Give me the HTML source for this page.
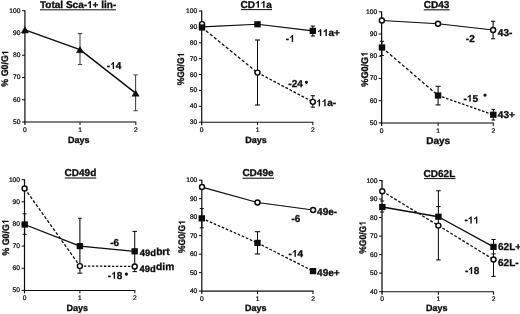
<!DOCTYPE html>
<html><head><meta charset="utf-8"><title>Figure</title>
<style>
html,body{margin:0;padding:0;background:#fff;}
body{width:520px;height:314px;overflow:hidden;font-family:"Liberation Sans",sans-serif;}
svg{display:block;}
svg text{font-family:"Liberation Sans",sans-serif;fill:#0a0a0a;text-rendering:geometricPrecision;}
svg text{stroke:#0a0a0a;stroke-width:0.22px;}
svg .b text,svg .b path{stroke:#0a0a0a;stroke-width:0.3px;fill:#0a0a0a;}
</style></head><body>
<svg width="520" height="314" viewBox="0 0 520 314">
<defs><filter id="bl" x="0" y="0" width="520" height="314" filterUnits="userSpaceOnUse"><feGaussianBlur stdDeviation="0.36"/></filter></defs>
<rect x="0" y="0" width="520" height="314" fill="#fff"/>
<g filter="url(#bl)">
<line x1="24.90" y1="10.30" x2="24.90" y2="125.00" stroke="#0a0a0a" stroke-width="1.20"/>
<line x1="24.40" y1="122.00" x2="136.30" y2="122.00" stroke="#0a0a0a" stroke-width="1.05"/>
<line x1="22.00" y1="10.70" x2="24.90" y2="10.70" stroke="#0a0a0a" stroke-width="1.00"/>
<text x="20.45" y="12.70" font-size="6.70" text-anchor="end">100</text>
<line x1="22.00" y1="32.96" x2="24.90" y2="32.96" stroke="#0a0a0a" stroke-width="1.00"/>
<text x="20.45" y="34.96" font-size="6.70" text-anchor="end">90</text>
<line x1="22.00" y1="55.22" x2="24.90" y2="55.22" stroke="#0a0a0a" stroke-width="1.00"/>
<text x="20.45" y="57.22" font-size="6.70" text-anchor="end">80</text>
<line x1="22.00" y1="77.48" x2="24.90" y2="77.48" stroke="#0a0a0a" stroke-width="1.00"/>
<text x="20.45" y="79.48" font-size="6.70" text-anchor="end">70</text>
<line x1="22.00" y1="99.74" x2="24.90" y2="99.74" stroke="#0a0a0a" stroke-width="1.00"/>
<text x="20.45" y="101.74" font-size="6.70" text-anchor="end">60</text>
<line x1="22.00" y1="122.00" x2="24.90" y2="122.00" stroke="#0a0a0a" stroke-width="1.00"/>
<text x="20.45" y="124.00" font-size="6.70" text-anchor="end">50</text>
<text x="24.90" y="131.60" font-size="6.70" text-anchor="middle">0</text>
<line x1="80.00" y1="122.00" x2="80.00" y2="125.00" stroke="#0a0a0a" stroke-width="1.00"/>
<text x="80.00" y="131.60" font-size="6.70" text-anchor="middle">1</text>
<line x1="135.80" y1="122.00" x2="135.80" y2="125.00" stroke="#0a0a0a" stroke-width="1.00"/>
<text x="135.80" y="131.60" font-size="6.70" text-anchor="middle">2</text>
<g class="b" transform="translate(39.99 7.90)" font-size="10.00" font-weight="bold"><text x="0.00" y="0" xml:space="preserve">Total Sca-</text><path transform="translate(47.05 0) scale(0.01000 -0.01000)" d="M393 0L254 0L254 495Q178 425 75 392L75 512Q129 530 193 578Q256 626 280 688L393 688Z"/><text x="52.61" y="0" xml:space="preserve">+ lin-</text></g>
<line x1="40.00" y1="9.80" x2="116.00" y2="9.80" stroke="#0a0a0a" stroke-width="1.00"/>
<g class="b" transform="translate(8.40 68.50) rotate(-90) scale(0.920 1)" font-size="9.60" font-weight="bold"><text x="-19.73" y="0" xml:space="preserve">% G0/G</text><path transform="translate(14.39 0) scale(0.00960 -0.00960)" d="M393 0L254 0L254 495Q178 425 75 392L75 512Q129 530 193 578Q256 626 280 688L393 688Z"/></g>
<g class="b" transform="translate(78.70 142.60)" font-size="9.00" font-weight="bold"><text x="-10.76" y="0" xml:space="preserve">Days</text></g>
<line x1="80.00" y1="33.60" x2="80.00" y2="64.50" stroke="#444" stroke-width="1.05"/>
<line x1="77.90" y1="33.60" x2="82.10" y2="33.60" stroke="#444" stroke-width="1.05"/>
<line x1="77.90" y1="64.50" x2="82.10" y2="64.50" stroke="#444" stroke-width="1.05"/>
<line x1="135.60" y1="74.90" x2="135.60" y2="110.70" stroke="#444" stroke-width="1.05"/>
<line x1="133.50" y1="74.90" x2="137.70" y2="74.90" stroke="#444" stroke-width="1.05"/>
<line x1="133.50" y1="110.70" x2="137.70" y2="110.70" stroke="#444" stroke-width="1.05"/>
<polyline points="24.90,29.90 80.00,49.60 135.60,93.10" fill="none" stroke="#0a0a0a" stroke-width="1.40" stroke-linejoin="round"/>
<polygon points="24.90,26.60 21.30,33.00 28.50,33.00" fill="#0a0a0a" stroke="#0a0a0a" stroke-width="0.4" stroke-linejoin="round"/>
<polygon points="80.00,46.40 76.40,52.80 83.60,52.80" fill="#0a0a0a" stroke="#0a0a0a" stroke-width="0.4" stroke-linejoin="round"/>
<polygon points="135.60,89.90 132.00,96.30 139.20,96.30" fill="#0a0a0a" stroke="#0a0a0a" stroke-width="0.4" stroke-linejoin="round"/>
<g class="b" transform="translate(106.81 69.00)" font-size="10.00" font-weight="bold"><text x="0.00" y="0" xml:space="preserve">-</text><path transform="translate(3.34 0) scale(0.01000 -0.01000)" d="M393 0L254 0L254 495Q178 425 75 392L75 512Q129 530 193 578Q256 626 280 688L393 688Z"/><text x="8.90" y="0" xml:space="preserve">4</text></g>
<line x1="201.70" y1="10.60" x2="201.70" y2="125.20" stroke="#0a0a0a" stroke-width="1.20"/>
<line x1="201.20" y1="122.20" x2="313.30" y2="122.20" stroke="#0a0a0a" stroke-width="1.05"/>
<line x1="198.80" y1="11.00" x2="201.70" y2="11.00" stroke="#0a0a0a" stroke-width="1.00"/>
<text x="197.25" y="13.00" font-size="6.70" text-anchor="end">100</text>
<line x1="198.80" y1="26.89" x2="201.70" y2="26.89" stroke="#0a0a0a" stroke-width="1.00"/>
<text x="197.25" y="28.89" font-size="6.70" text-anchor="end">90</text>
<line x1="198.80" y1="42.77" x2="201.70" y2="42.77" stroke="#0a0a0a" stroke-width="1.00"/>
<text x="197.25" y="44.77" font-size="6.70" text-anchor="end">80</text>
<line x1="198.80" y1="58.66" x2="201.70" y2="58.66" stroke="#0a0a0a" stroke-width="1.00"/>
<text x="197.25" y="60.66" font-size="6.70" text-anchor="end">70</text>
<line x1="198.80" y1="74.54" x2="201.70" y2="74.54" stroke="#0a0a0a" stroke-width="1.00"/>
<text x="197.25" y="76.54" font-size="6.70" text-anchor="end">60</text>
<line x1="198.80" y1="90.43" x2="201.70" y2="90.43" stroke="#0a0a0a" stroke-width="1.00"/>
<text x="197.25" y="92.43" font-size="6.70" text-anchor="end">50</text>
<line x1="198.80" y1="106.31" x2="201.70" y2="106.31" stroke="#0a0a0a" stroke-width="1.00"/>
<text x="197.25" y="108.31" font-size="6.70" text-anchor="end">40</text>
<line x1="198.80" y1="122.20" x2="201.70" y2="122.20" stroke="#0a0a0a" stroke-width="1.00"/>
<text x="197.25" y="124.20" font-size="6.70" text-anchor="end">30</text>
<text x="201.70" y="131.80" font-size="6.70" text-anchor="middle">0</text>
<line x1="257.50" y1="122.20" x2="257.50" y2="125.20" stroke="#0a0a0a" stroke-width="1.00"/>
<text x="257.50" y="131.80" font-size="6.70" text-anchor="middle">1</text>
<line x1="312.80" y1="122.20" x2="312.80" y2="125.20" stroke="#0a0a0a" stroke-width="1.00"/>
<text x="312.80" y="131.80" font-size="6.70" text-anchor="middle">2</text>
<g class="b" transform="translate(240.59 7.80)" font-size="10.00" font-weight="bold"><text x="0.00" y="0" xml:space="preserve">CD</text><path transform="translate(14.45 0) scale(0.01000 -0.01000)" d="M393 0L254 0L254 495Q178 425 75 392L75 512Q129 530 193 578Q256 626 280 688L393 688Z"/><path transform="translate(20.01 0) scale(0.01000 -0.01000)" d="M393 0L254 0L254 495Q178 425 75 392L75 512Q129 530 193 578Q256 626 280 688L393 688Z"/><text x="25.57" y="0" xml:space="preserve">a</text></g>
<line x1="241.00" y1="9.60" x2="272.00" y2="9.60" stroke="#0a0a0a" stroke-width="1.00"/>
<g class="b" transform="translate(184.10 69.00) rotate(-90) scale(0.890 1)" font-size="9.60" font-weight="bold"><text x="-18.40" y="0" xml:space="preserve">%G0/G</text><path transform="translate(13.07 0) scale(0.00960 -0.00960)" d="M393 0L254 0L254 495Q178 425 75 392L75 512Q129 530 193 578Q256 626 280 688L393 688Z"/></g>
<g class="b" transform="translate(256.00 142.50)" font-size="9.00" font-weight="bold"><text x="-10.76" y="0" xml:space="preserve">Days</text></g>
<line x1="257.50" y1="40.00" x2="257.50" y2="105.00" stroke="#0a0a0a" stroke-width="1.05"/>
<line x1="254.90" y1="40.00" x2="260.10" y2="40.00" stroke="#0a0a0a" stroke-width="1.05"/>
<line x1="254.90" y1="105.00" x2="260.10" y2="105.00" stroke="#0a0a0a" stroke-width="1.05"/>
<line x1="312.80" y1="95.70" x2="312.80" y2="107.20" stroke="#0a0a0a" stroke-width="1.05"/>
<line x1="310.70" y1="95.70" x2="314.90" y2="95.70" stroke="#0a0a0a" stroke-width="1.05"/>
<line x1="310.70" y1="107.20" x2="314.90" y2="107.20" stroke="#0a0a0a" stroke-width="1.05"/>
<line x1="312.80" y1="26.10" x2="312.80" y2="36.00" stroke="#0a0a0a" stroke-width="1.05"/>
<line x1="310.70" y1="26.10" x2="314.90" y2="26.10" stroke="#0a0a0a" stroke-width="1.05"/>
<line x1="310.70" y1="36.00" x2="314.90" y2="36.00" stroke="#0a0a0a" stroke-width="1.05"/>
<polyline points="202.00,26.90 257.50,24.25 312.80,30.90" fill="none" stroke="#0a0a0a" stroke-width="1.15" stroke-linejoin="round"/>
<line x1="202.00" y1="27.50" x2="257.50" y2="72.60" stroke="#0a0a0a" stroke-width="1.30" stroke-dasharray="3.09 2.06"/>
<line x1="257.50" y1="72.60" x2="312.80" y2="101.85" stroke="#0a0a0a" stroke-width="1.30" stroke-dasharray="2.72 1.81"/>
<circle cx="202.00" cy="24.10" r="2.50" fill="#fff" stroke="#0a0a0a" stroke-width="1.45"/>
<rect x="198.80" y="24.40" width="6.40" height="6.20" fill="#0a0a0a"/>
<rect x="254.30" y="21.15" width="6.40" height="6.20" fill="#0a0a0a"/>
<rect x="309.60" y="27.80" width="6.40" height="6.20" fill="#0a0a0a"/>
<circle cx="257.50" cy="72.60" r="2.50" fill="#fff" stroke="#0a0a0a" stroke-width="1.45"/>
<circle cx="312.85" cy="101.85" r="2.50" fill="#fff" stroke="#0a0a0a" stroke-width="1.45"/>
<g class="b" transform="translate(285.86 42.00)" font-size="10.00" font-weight="bold"><text x="0.00" y="0" xml:space="preserve">-</text><path transform="translate(3.34 0) scale(0.01000 -0.01000)" d="M393 0L254 0L254 495Q178 425 75 392L75 512Q129 530 193 578Q256 626 280 688L393 688Z"/></g>
<g class="b" transform="translate(317.35 36.10)" font-size="10.00" font-weight="bold"><path transform="translate(0.00 0) scale(0.01000 -0.01000)" d="M393 0L254 0L254 495Q178 425 75 392L75 512Q129 530 193 578Q256 626 280 688L393 688Z"/><path transform="translate(5.56 0) scale(0.01000 -0.01000)" d="M393 0L254 0L254 495Q178 425 75 392L75 512Q129 530 193 578Q256 626 280 688L393 688Z"/><text x="11.12" y="0" xml:space="preserve">a+</text></g>
<g class="b" transform="translate(288.36 87.20)" font-size="10.00" font-weight="bold"><text x="0.00" y="0" xml:space="preserve">-24</text></g>
<line x1="306.40" y1="80.70" x2="306.40" y2="83.90" stroke="#0a0a0a" stroke-width="1.10"/>
<line x1="307.79" y1="81.50" x2="305.01" y2="83.10" stroke="#0a0a0a" stroke-width="1.10"/>
<line x1="307.79" y1="83.10" x2="305.01" y2="81.50" stroke="#0a0a0a" stroke-width="1.10"/>
<g class="b" transform="translate(316.15 106.20)" font-size="10.00" font-weight="bold"><path transform="translate(0.00 0) scale(0.01000 -0.01000)" d="M393 0L254 0L254 495Q178 425 75 392L75 512Q129 530 193 578Q256 626 280 688L393 688Z"/><path transform="translate(5.56 0) scale(0.01000 -0.01000)" d="M393 0L254 0L254 495Q178 425 75 392L75 512Q129 530 193 578Q256 626 280 688L393 688Z"/><text x="11.12" y="0" xml:space="preserve">a-</text></g>
<line x1="381.60" y1="11.40" x2="381.60" y2="125.90" stroke="#0a0a0a" stroke-width="1.20"/>
<line x1="381.10" y1="122.90" x2="493.80" y2="122.90" stroke="#0a0a0a" stroke-width="1.05"/>
<line x1="378.70" y1="11.80" x2="381.60" y2="11.80" stroke="#0a0a0a" stroke-width="1.00"/>
<text x="377.15" y="13.80" font-size="6.70" text-anchor="end">100</text>
<line x1="378.70" y1="34.02" x2="381.60" y2="34.02" stroke="#0a0a0a" stroke-width="1.00"/>
<text x="377.15" y="36.02" font-size="6.70" text-anchor="end">90</text>
<line x1="378.70" y1="56.24" x2="381.60" y2="56.24" stroke="#0a0a0a" stroke-width="1.00"/>
<text x="377.15" y="58.24" font-size="6.70" text-anchor="end">80</text>
<line x1="378.70" y1="78.46" x2="381.60" y2="78.46" stroke="#0a0a0a" stroke-width="1.00"/>
<text x="377.15" y="80.46" font-size="6.70" text-anchor="end">70</text>
<line x1="378.70" y1="100.68" x2="381.60" y2="100.68" stroke="#0a0a0a" stroke-width="1.00"/>
<text x="377.15" y="102.68" font-size="6.70" text-anchor="end">60</text>
<line x1="378.70" y1="122.90" x2="381.60" y2="122.90" stroke="#0a0a0a" stroke-width="1.00"/>
<text x="377.15" y="124.90" font-size="6.70" text-anchor="end">50</text>
<text x="381.60" y="132.50" font-size="6.70" text-anchor="middle">0</text>
<line x1="438.10" y1="122.90" x2="438.10" y2="125.90" stroke="#0a0a0a" stroke-width="1.00"/>
<text x="438.10" y="132.50" font-size="6.70" text-anchor="middle">1</text>
<line x1="493.30" y1="122.90" x2="493.30" y2="125.90" stroke="#0a0a0a" stroke-width="1.00"/>
<text x="493.30" y="132.50" font-size="6.70" text-anchor="middle">2</text>
<g class="b" transform="translate(423.74 8.00)" font-size="10.00" font-weight="bold"><text x="0.00" y="0" xml:space="preserve">CD43</text></g>
<line x1="423.80" y1="9.85" x2="449.70" y2="9.85" stroke="#0a0a0a" stroke-width="1.00"/>
<g class="b" transform="translate(367.70 69.20) rotate(-90) scale(0.950 1)" font-size="9.60" font-weight="bold"><text x="-18.40" y="0" xml:space="preserve">%G0/G</text><path transform="translate(13.07 0) scale(0.00960 -0.00960)" d="M393 0L254 0L254 495Q178 425 75 392L75 512Q129 530 193 578Q256 626 280 688L393 688Z"/></g>
<g class="b" transform="translate(438.20 144.00)" font-size="10.00" font-weight="bold"><text x="-11.95" y="0" xml:space="preserve">Days</text></g>
<line x1="493.10" y1="21.25" x2="493.10" y2="38.75" stroke="#0a0a0a" stroke-width="1.05"/>
<line x1="491.00" y1="21.25" x2="495.20" y2="21.25" stroke="#0a0a0a" stroke-width="1.05"/>
<line x1="491.00" y1="38.75" x2="495.20" y2="38.75" stroke="#0a0a0a" stroke-width="1.05"/>
<line x1="381.90" y1="41.25" x2="381.90" y2="55.50" stroke="#0a0a0a" stroke-width="1.05"/>
<line x1="379.90" y1="41.25" x2="383.90" y2="41.25" stroke="#0a0a0a" stroke-width="1.05"/>
<line x1="379.90" y1="55.50" x2="383.90" y2="55.50" stroke="#0a0a0a" stroke-width="1.05"/>
<line x1="438.10" y1="86.30" x2="438.10" y2="104.90" stroke="#0a0a0a" stroke-width="1.05"/>
<line x1="435.60" y1="86.30" x2="440.60" y2="86.30" stroke="#0a0a0a" stroke-width="1.05"/>
<line x1="435.60" y1="104.90" x2="440.60" y2="104.90" stroke="#0a0a0a" stroke-width="1.05"/>
<line x1="493.30" y1="109.40" x2="493.30" y2="120.00" stroke="#0a0a0a" stroke-width="1.05"/>
<line x1="491.50" y1="109.40" x2="495.10" y2="109.40" stroke="#0a0a0a" stroke-width="1.05"/>
<line x1="491.50" y1="120.00" x2="495.10" y2="120.00" stroke="#0a0a0a" stroke-width="1.05"/>
<polyline points="381.85,20.50 438.00,23.75 493.10,30.00" fill="none" stroke="#0a0a0a" stroke-width="1.15" stroke-linejoin="round"/>
<line x1="382.00" y1="47.50" x2="438.10" y2="95.50" stroke="#0a0a0a" stroke-width="1.30" stroke-dasharray="3.16 2.11"/>
<line x1="438.10" y1="95.50" x2="493.30" y2="114.75" stroke="#0a0a0a" stroke-width="1.30" stroke-dasharray="2.54 1.69"/>
<circle cx="381.85" cy="20.50" r="2.50" fill="#fff" stroke="#0a0a0a" stroke-width="1.45"/>
<circle cx="438.00" cy="23.75" r="2.50" fill="#fff" stroke="#0a0a0a" stroke-width="1.45"/>
<circle cx="493.10" cy="30.00" r="2.50" fill="#fff" stroke="#0a0a0a" stroke-width="1.45"/>
<rect x="378.80" y="44.40" width="6.40" height="6.20" fill="#0a0a0a"/>
<rect x="434.90" y="92.40" width="6.40" height="6.20" fill="#0a0a0a"/>
<rect x="490.10" y="111.65" width="6.40" height="6.20" fill="#0a0a0a"/>
<g class="b" transform="translate(465.86 41.70)" font-size="10.00" font-weight="bold"><text x="0.00" y="0" xml:space="preserve">-2</text></g>
<g class="b" transform="translate(497.85 35.95)" font-size="10.00" font-weight="bold"><text x="0.00" y="0" xml:space="preserve">43-</text></g>
<g class="b" transform="translate(463.51 101.60)" font-size="10.00" font-weight="bold"><text x="0.00" y="0" xml:space="preserve">-</text><path transform="translate(3.34 0) scale(0.01000 -0.01000)" d="M393 0L254 0L254 495Q178 425 75 392L75 512Q129 530 193 578Q256 626 280 688L393 688Z"/><text x="8.90" y="0" xml:space="preserve">5</text></g>
<line x1="485.00" y1="93.60" x2="485.00" y2="96.80" stroke="#0a0a0a" stroke-width="1.10"/>
<line x1="486.39" y1="94.40" x2="483.61" y2="96.00" stroke="#0a0a0a" stroke-width="1.10"/>
<line x1="486.39" y1="96.00" x2="483.61" y2="94.40" stroke="#0a0a0a" stroke-width="1.10"/>
<g class="b" transform="translate(497.85 118.00)" font-size="10.00" font-weight="bold"><text x="0.00" y="0" xml:space="preserve">43+</text></g>
<line x1="24.50" y1="179.30" x2="24.50" y2="293.40" stroke="#0a0a0a" stroke-width="1.20"/>
<line x1="24.00" y1="290.40" x2="135.30" y2="290.40" stroke="#0a0a0a" stroke-width="1.05"/>
<line x1="21.60" y1="179.70" x2="24.50" y2="179.70" stroke="#0a0a0a" stroke-width="1.00"/>
<text x="20.05" y="181.70" font-size="6.70" text-anchor="end">100</text>
<line x1="21.60" y1="201.84" x2="24.50" y2="201.84" stroke="#0a0a0a" stroke-width="1.00"/>
<text x="20.05" y="203.84" font-size="6.70" text-anchor="end">90</text>
<line x1="21.60" y1="223.98" x2="24.50" y2="223.98" stroke="#0a0a0a" stroke-width="1.00"/>
<text x="20.05" y="225.98" font-size="6.70" text-anchor="end">80</text>
<line x1="21.60" y1="246.12" x2="24.50" y2="246.12" stroke="#0a0a0a" stroke-width="1.00"/>
<text x="20.05" y="248.12" font-size="6.70" text-anchor="end">70</text>
<line x1="21.60" y1="268.26" x2="24.50" y2="268.26" stroke="#0a0a0a" stroke-width="1.00"/>
<text x="20.05" y="270.26" font-size="6.70" text-anchor="end">60</text>
<line x1="21.60" y1="290.40" x2="24.50" y2="290.40" stroke="#0a0a0a" stroke-width="1.00"/>
<text x="20.05" y="292.40" font-size="6.70" text-anchor="end">50</text>
<text x="24.50" y="300.00" font-size="6.70" text-anchor="middle">0</text>
<line x1="79.90" y1="290.40" x2="79.90" y2="293.40" stroke="#0a0a0a" stroke-width="1.00"/>
<text x="79.90" y="300.00" font-size="6.70" text-anchor="middle">1</text>
<line x1="134.80" y1="290.40" x2="134.80" y2="293.40" stroke="#0a0a0a" stroke-width="1.00"/>
<text x="134.80" y="300.00" font-size="6.70" text-anchor="middle">2</text>
<g class="b" transform="translate(64.59 176.20)" font-size="10.00" font-weight="bold"><text x="0.00" y="0" xml:space="preserve">CD49d</text></g>
<line x1="64.80" y1="178.00" x2="96.20" y2="178.00" stroke="#0a0a0a" stroke-width="1.00"/>
<g class="b" transform="translate(8.60 237.40) rotate(-90) scale(0.920 1)" font-size="9.60" font-weight="bold"><text x="-19.73" y="0" xml:space="preserve">% G0/G</text><path transform="translate(14.39 0) scale(0.00960 -0.00960)" d="M393 0L254 0L254 495Q178 425 75 392L75 512Q129 530 193 578Q256 626 280 688L393 688Z"/></g>
<g class="b" transform="translate(77.20 310.50)" font-size="9.00" font-weight="bold"><text x="-10.76" y="0" xml:space="preserve">Days</text></g>
<line x1="79.90" y1="218.30" x2="79.90" y2="273.20" stroke="#0a0a0a" stroke-width="1.05"/>
<line x1="78.10" y1="218.30" x2="81.70" y2="218.30" stroke="#0a0a0a" stroke-width="1.05"/>
<line x1="77.40" y1="273.20" x2="82.40" y2="273.20" stroke="#0a0a0a" stroke-width="1.05"/>
<line x1="134.70" y1="231.40" x2="134.70" y2="271.60" stroke="#0a0a0a" stroke-width="1.05"/>
<line x1="132.45" y1="231.40" x2="136.95" y2="231.40" stroke="#0a0a0a" stroke-width="1.05"/>
<line x1="132.45" y1="271.60" x2="136.95" y2="271.60" stroke="#0a0a0a" stroke-width="1.05"/>
<line x1="24.60" y1="213.80" x2="24.60" y2="234.30" stroke="#0a0a0a" stroke-width="1.05"/>
<line x1="22.60" y1="213.80" x2="26.60" y2="213.80" stroke="#0a0a0a" stroke-width="1.05"/>
<line x1="22.60" y1="234.30" x2="26.60" y2="234.30" stroke="#0a0a0a" stroke-width="1.05"/>
<polyline points="24.60,224.50 79.90,246.10 134.70,251.30" fill="none" stroke="#0a0a0a" stroke-width="1.30" stroke-linejoin="round"/>
<line x1="24.60" y1="188.50" x2="79.90" y2="266.10" stroke="#0a0a0a" stroke-width="1.30" stroke-dasharray="2.95 1.96"/>
<line x1="79.90" y1="266.10" x2="134.70" y2="266.40" stroke="#0a0a0a" stroke-width="1.30" stroke-dasharray="2.40 1.60"/>
<circle cx="24.60" cy="188.50" r="2.50" fill="#fff" stroke="#0a0a0a" stroke-width="1.45"/>
<rect x="21.50" y="221.40" width="6.40" height="6.20" fill="#0a0a0a"/>
<rect x="76.70" y="243.00" width="6.40" height="6.20" fill="#0a0a0a"/>
<rect x="131.50" y="248.20" width="6.40" height="6.20" fill="#0a0a0a"/>
<circle cx="79.90" cy="266.10" r="2.50" fill="#fff" stroke="#0a0a0a" stroke-width="1.45"/>
<circle cx="134.70" cy="266.40" r="2.50" fill="#fff" stroke="#0a0a0a" stroke-width="1.45"/>
<g class="b" transform="translate(110.21 246.20)" font-size="10.00" font-weight="bold"><text x="0.00" y="0" xml:space="preserve">-6</text></g>
<g class="b" transform="translate(107.81 278.70)" font-size="10.00" font-weight="bold"><text x="0.00" y="0" xml:space="preserve">-</text><path transform="translate(3.34 0) scale(0.01000 -0.01000)" d="M393 0L254 0L254 495Q178 425 75 392L75 512Q129 530 193 578Q256 626 280 688L393 688Z"/><text x="8.90" y="0" xml:space="preserve">8</text></g>
<line x1="126.40" y1="272.50" x2="126.40" y2="275.70" stroke="#0a0a0a" stroke-width="1.10"/>
<line x1="127.79" y1="273.30" x2="125.01" y2="274.90" stroke="#0a0a0a" stroke-width="1.10"/>
<line x1="127.79" y1="274.90" x2="125.01" y2="273.30" stroke="#0a0a0a" stroke-width="1.10"/>
<g class="b" transform="translate(139.86 255.80)" font-size="9.40" font-weight="bold"><text x="0.00" y="0" xml:space="preserve">49d</text></g>
<g class="b" transform="translate(156.13 254.50)" font-size="10.20" font-weight="bold"><text x="0.00" y="0" xml:space="preserve">brt</text></g>
<g class="b" transform="translate(139.61 271.70)" font-size="9.40" font-weight="bold"><text x="0.00" y="0" xml:space="preserve">49d</text></g>
<g class="b" transform="translate(156.08 269.60)" font-size="10.20" font-weight="bold"><text x="0.00" y="0" xml:space="preserve">dim</text></g>
<line x1="201.80" y1="179.80" x2="201.80" y2="294.10" stroke="#0a0a0a" stroke-width="1.20"/>
<line x1="201.30" y1="291.10" x2="313.50" y2="291.10" stroke="#0a0a0a" stroke-width="1.05"/>
<line x1="198.90" y1="180.20" x2="201.80" y2="180.20" stroke="#0a0a0a" stroke-width="1.00"/>
<text x="197.35" y="182.20" font-size="6.70" text-anchor="end">100</text>
<line x1="198.90" y1="198.68" x2="201.80" y2="198.68" stroke="#0a0a0a" stroke-width="1.00"/>
<text x="197.35" y="200.68" font-size="6.70" text-anchor="end">90</text>
<line x1="198.90" y1="217.17" x2="201.80" y2="217.17" stroke="#0a0a0a" stroke-width="1.00"/>
<text x="197.35" y="219.17" font-size="6.70" text-anchor="end">80</text>
<line x1="198.90" y1="235.65" x2="201.80" y2="235.65" stroke="#0a0a0a" stroke-width="1.00"/>
<text x="197.35" y="237.65" font-size="6.70" text-anchor="end">70</text>
<line x1="198.90" y1="254.13" x2="201.80" y2="254.13" stroke="#0a0a0a" stroke-width="1.00"/>
<text x="197.35" y="256.13" font-size="6.70" text-anchor="end">60</text>
<line x1="198.90" y1="272.62" x2="201.80" y2="272.62" stroke="#0a0a0a" stroke-width="1.00"/>
<text x="197.35" y="274.62" font-size="6.70" text-anchor="end">50</text>
<line x1="198.90" y1="291.10" x2="201.80" y2="291.10" stroke="#0a0a0a" stroke-width="1.00"/>
<text x="197.35" y="293.10" font-size="6.70" text-anchor="end">40</text>
<text x="201.80" y="300.70" font-size="6.70" text-anchor="middle">0</text>
<line x1="257.50" y1="291.10" x2="257.50" y2="294.10" stroke="#0a0a0a" stroke-width="1.00"/>
<text x="257.50" y="300.70" font-size="6.70" text-anchor="middle">1</text>
<line x1="313.00" y1="291.10" x2="313.00" y2="294.10" stroke="#0a0a0a" stroke-width="1.00"/>
<text x="313.00" y="300.70" font-size="6.70" text-anchor="middle">2</text>
<g class="b" transform="translate(242.39 176.40)" font-size="10.00" font-weight="bold"><text x="0.00" y="0" xml:space="preserve">CD49e</text></g>
<line x1="242.50" y1="178.20" x2="274.00" y2="178.20" stroke="#0a0a0a" stroke-width="1.00"/>
<g class="b" transform="translate(185.20 236.60) rotate(-90) scale(0.890 1)" font-size="9.60" font-weight="bold"><text x="-18.40" y="0" xml:space="preserve">%G0/G</text><path transform="translate(13.07 0) scale(0.00960 -0.00960)" d="M393 0L254 0L254 495Q178 425 75 392L75 512Q129 530 193 578Q256 626 280 688L393 688Z"/></g>
<g class="b" transform="translate(255.80 311.10)" font-size="9.00" font-weight="bold"><text x="-10.76" y="0" xml:space="preserve">Days</text></g>
<line x1="201.80" y1="208.50" x2="201.80" y2="227.80" stroke="#0a0a0a" stroke-width="1.05"/>
<line x1="199.80" y1="208.50" x2="203.80" y2="208.50" stroke="#0a0a0a" stroke-width="1.05"/>
<line x1="199.80" y1="227.80" x2="203.80" y2="227.80" stroke="#0a0a0a" stroke-width="1.05"/>
<line x1="257.50" y1="231.70" x2="257.50" y2="254.00" stroke="#0a0a0a" stroke-width="1.05"/>
<line x1="254.80" y1="231.70" x2="260.20" y2="231.70" stroke="#0a0a0a" stroke-width="1.05"/>
<line x1="254.80" y1="254.00" x2="260.20" y2="254.00" stroke="#0a0a0a" stroke-width="1.05"/>
<polyline points="202.00,187.05 257.50,202.50 313.10,210.00" fill="none" stroke="#0a0a0a" stroke-width="1.20" stroke-linejoin="round"/>
<line x1="201.80" y1="218.30" x2="257.50" y2="242.90" stroke="#0a0a0a" stroke-width="1.30" stroke-dasharray="2.62 1.75"/>
<line x1="257.50" y1="242.90" x2="313.00" y2="271.10" stroke="#0a0a0a" stroke-width="1.30" stroke-dasharray="2.69 1.79"/>
<circle cx="202.00" cy="187.05" r="2.50" fill="#fff" stroke="#0a0a0a" stroke-width="1.45"/>
<circle cx="257.50" cy="202.50" r="2.50" fill="#fff" stroke="#0a0a0a" stroke-width="1.45"/>
<circle cx="313.10" cy="210.00" r="2.50" fill="#fff" stroke="#0a0a0a" stroke-width="1.45"/>
<rect x="198.60" y="215.20" width="6.40" height="6.20" fill="#0a0a0a"/>
<rect x="254.30" y="239.80" width="6.40" height="6.20" fill="#0a0a0a"/>
<rect x="309.80" y="268.00" width="6.40" height="6.20" fill="#0a0a0a"/>
<g class="b" transform="translate(291.51 222.20)" font-size="10.00" font-weight="bold"><text x="0.00" y="0" xml:space="preserve">-6</text></g>
<g class="b" transform="translate(317.10 215.10)" font-size="10.00" font-weight="bold"><text x="0.00" y="0" xml:space="preserve">49e-</text></g>
<g class="b" transform="translate(288.61 256.80)" font-size="10.00" font-weight="bold"><text x="0.00" y="0" xml:space="preserve">-</text><path transform="translate(3.34 0) scale(0.01000 -0.01000)" d="M393 0L254 0L254 495Q178 425 75 392L75 512Q129 530 193 578Q256 626 280 688L393 688Z"/><text x="8.90" y="0" xml:space="preserve">4</text></g>
<g class="b" transform="translate(317.10 276.45)" font-size="10.00" font-weight="bold"><text x="0.00" y="0" xml:space="preserve">49e+</text></g>
<line x1="382.00" y1="180.10" x2="382.00" y2="294.70" stroke="#0a0a0a" stroke-width="1.20"/>
<line x1="381.50" y1="291.70" x2="494.00" y2="291.70" stroke="#0a0a0a" stroke-width="1.05"/>
<line x1="379.10" y1="180.50" x2="382.00" y2="180.50" stroke="#0a0a0a" stroke-width="1.00"/>
<text x="377.55" y="182.50" font-size="6.70" text-anchor="end">100</text>
<line x1="379.10" y1="199.03" x2="382.00" y2="199.03" stroke="#0a0a0a" stroke-width="1.00"/>
<text x="377.55" y="201.03" font-size="6.70" text-anchor="end">90</text>
<line x1="379.10" y1="217.57" x2="382.00" y2="217.57" stroke="#0a0a0a" stroke-width="1.00"/>
<text x="377.55" y="219.57" font-size="6.70" text-anchor="end">80</text>
<line x1="379.10" y1="236.10" x2="382.00" y2="236.10" stroke="#0a0a0a" stroke-width="1.00"/>
<text x="377.55" y="238.10" font-size="6.70" text-anchor="end">70</text>
<line x1="379.10" y1="254.63" x2="382.00" y2="254.63" stroke="#0a0a0a" stroke-width="1.00"/>
<text x="377.55" y="256.63" font-size="6.70" text-anchor="end">60</text>
<line x1="379.10" y1="273.17" x2="382.00" y2="273.17" stroke="#0a0a0a" stroke-width="1.00"/>
<text x="377.55" y="275.17" font-size="6.70" text-anchor="end">50</text>
<line x1="379.10" y1="291.70" x2="382.00" y2="291.70" stroke="#0a0a0a" stroke-width="1.00"/>
<text x="377.55" y="293.70" font-size="6.70" text-anchor="end">40</text>
<text x="382.00" y="301.30" font-size="6.70" text-anchor="middle">0</text>
<line x1="438.40" y1="291.70" x2="438.40" y2="294.70" stroke="#0a0a0a" stroke-width="1.00"/>
<text x="438.40" y="301.30" font-size="6.70" text-anchor="middle">1</text>
<line x1="493.50" y1="291.70" x2="493.50" y2="294.70" stroke="#0a0a0a" stroke-width="1.00"/>
<text x="493.50" y="301.30" font-size="6.70" text-anchor="middle">2</text>
<g class="b" transform="translate(423.59 176.90)" font-size="10.00" font-weight="bold"><text x="0.00" y="0" xml:space="preserve">CD62L</text></g>
<line x1="424.00" y1="178.60" x2="455.50" y2="178.60" stroke="#0a0a0a" stroke-width="1.00"/>
<g class="b" transform="translate(365.80 237.40) rotate(-90) scale(0.890 1)" font-size="9.60" font-weight="bold"><text x="-18.40" y="0" xml:space="preserve">%G0/G</text><path transform="translate(13.07 0) scale(0.00960 -0.00960)" d="M393 0L254 0L254 495Q178 425 75 392L75 512Q129 530 193 578Q256 626 280 688L393 688Z"/></g>
<g class="b" transform="translate(436.80 311.20)" font-size="9.00" font-weight="bold"><text x="-10.76" y="0" xml:space="preserve">Days</text></g>
<line x1="438.40" y1="190.80" x2="438.40" y2="259.90" stroke="#0a0a0a" stroke-width="1.05"/>
<line x1="436.15" y1="190.80" x2="440.65" y2="190.80" stroke="#0a0a0a" stroke-width="1.05"/>
<line x1="436.15" y1="259.90" x2="440.65" y2="259.90" stroke="#0a0a0a" stroke-width="1.05"/>
<line x1="436.15" y1="206.60" x2="440.65" y2="206.60" stroke="#0a0a0a" stroke-width="1.05"/>
<line x1="493.50" y1="239.50" x2="493.50" y2="276.40" stroke="#0a0a0a" stroke-width="1.05"/>
<line x1="491.40" y1="239.50" x2="495.60" y2="239.50" stroke="#0a0a0a" stroke-width="1.05"/>
<line x1="491.40" y1="276.40" x2="495.60" y2="276.40" stroke="#0a0a0a" stroke-width="1.05"/>
<line x1="491.40" y1="253.90" x2="495.60" y2="253.90" stroke="#0a0a0a" stroke-width="1.05"/>
<line x1="380.20" y1="201.00" x2="384.20" y2="201.00" stroke="#0a0a0a" stroke-width="1.05"/>
<line x1="380.20" y1="212.00" x2="384.20" y2="212.00" stroke="#0a0a0a" stroke-width="1.05"/>
<polyline points="382.30,207.00 438.40,216.75 493.50,246.90" fill="none" stroke="#0a0a0a" stroke-width="1.30" stroke-linejoin="round"/>
<line x1="382.30" y1="191.30" x2="438.40" y2="225.60" stroke="#0a0a0a" stroke-width="1.30" stroke-dasharray="2.81 1.88"/>
<line x1="438.40" y1="225.60" x2="493.50" y2="259.50" stroke="#0a0a0a" stroke-width="1.30" stroke-dasharray="2.82 1.88"/>
<circle cx="382.30" cy="191.30" r="2.50" fill="#fff" stroke="#0a0a0a" stroke-width="1.45"/>
<rect x="379.10" y="203.90" width="6.40" height="6.20" fill="#0a0a0a"/>
<rect x="435.20" y="213.65" width="6.40" height="6.20" fill="#0a0a0a"/>
<circle cx="438.40" cy="225.60" r="2.50" fill="#fff" stroke="#0a0a0a" stroke-width="1.45"/>
<rect x="490.30" y="243.80" width="6.40" height="6.20" fill="#0a0a0a"/>
<circle cx="493.50" cy="259.50" r="2.50" fill="#fff" stroke="#0a0a0a" stroke-width="1.45"/>
<g class="b" transform="translate(464.51 223.40)" font-size="10.00" font-weight="bold"><text x="0.00" y="0" xml:space="preserve">-</text><path transform="translate(3.34 0) scale(0.01000 -0.01000)" d="M393 0L254 0L254 495Q178 425 75 392L75 512Q129 530 193 578Q256 626 280 688L393 688Z"/><path transform="translate(8.90 0) scale(0.01000 -0.01000)" d="M393 0L254 0L254 495Q178 425 75 392L75 512Q129 530 193 578Q256 626 280 688L393 688Z"/></g>
<g class="b" transform="translate(498.03 250.30)" font-size="10.00" font-weight="bold"><text x="0.00" y="0" xml:space="preserve">62L+</text></g>
<g class="b" transform="translate(498.03 265.70)" font-size="10.00" font-weight="bold"><text x="0.00" y="0" xml:space="preserve">62L-</text></g>
<g class="b" transform="translate(464.91 274.00)" font-size="10.00" font-weight="bold"><text x="0.00" y="0" xml:space="preserve">-</text><path transform="translate(3.34 0) scale(0.01000 -0.01000)" d="M393 0L254 0L254 495Q178 425 75 392L75 512Q129 530 193 578Q256 626 280 688L393 688Z"/><text x="8.90" y="0" xml:space="preserve">8</text></g>
</g>
</svg>
</body></html>
